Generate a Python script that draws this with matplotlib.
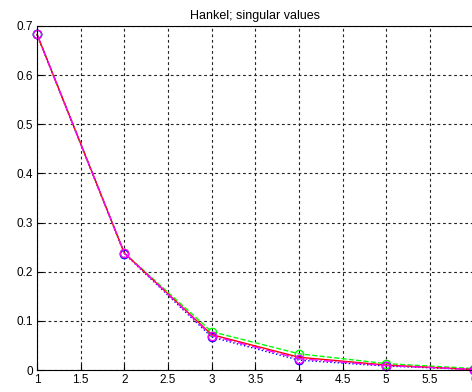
import numpy as np
import matplotlib.pyplot as plt

plt.rcParams['font.family'] = ['Liberation Sans', 'DejaVu Sans']

# model order
k = [1, 2, 3, 4, 5, 6]

# singular values for each estimate
sv_green = [0.683, 0.238, 0.078, 0.033, 0.013, 0.003]
sv_red = [0.683, 0.238, 0.072, 0.026, 0.010, 0.001]
sv_blue = [0.683, 0.237, 0.067, 0.020, 0.008, 0.001]
sv_mag = [0.683, 0.238, 0.070, 0.023, 0.009, 0.001]

xticks = [1, 1.5, 2, 2.5, 3, 3.5, 4, 4.5, 5, 5.5, 6]
xticklabels = ['1', '1.5', '2', '2.5', '3', '3.5', '4', '4.5', '5', '5.5', '6']
yticks = [0, 0.1, 0.2, 0.3, 0.4, 0.5, 0.6, 0.7]
yticklabels = ['0', '0.1', '0.2', '0.3', '0.4', '0.5', '0.6', '0.7']

fig = plt.figure(figsize=(4.72, 3.92), dpi=100)
ax = fig.add_axes([0.0784, 0.0561, 0.925, 0.8776])

ax.plot(k, sv_green, color='#00ff00', ls='--', lw=1, marker='o', mfc='none', ms=6, mew=1, clip_on=False)
ax.plot(k, sv_blue, color='#0000ff', ls=':', lw=1, marker='o', mfc='none', ms=6, mew=1, clip_on=False)
ax.plot(k, sv_red, color='#ff0000', ls='-', lw=1, clip_on=False)
ax.plot(k, sv_mag, color='#ff00ff', ls='-.', lw=1, marker='o', mfc='none', ms=6, mew=1, clip_on=False)

ax.set_xlim(1, 6)
ax.set_ylim(0, 0.7)
ax.set_xticks(xticks)
ax.set_xticklabels(xticklabels)
ax.set_yticks(yticks)
ax.set_yticklabels(yticklabels)
ax.tick_params(direction='in', labelsize=8.5, length=4, pad=3)
ax.grid(True, color='#222222', ls=(0, (2.5, 2.5)), lw=0.8)
for s in ax.spines.values():
    s.set_linewidth(0.8)

ax.set_title('Hankel; singular values', fontsize=9, pad=5)

fig.savefig('out.png', dpi=100)
